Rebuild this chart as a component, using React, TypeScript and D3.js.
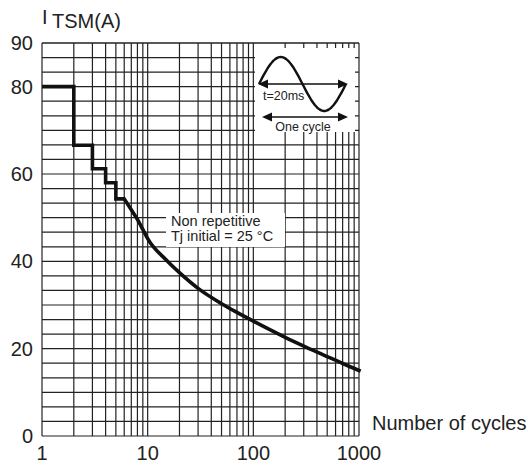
import React from "react";
import * as d3 from "d3";

const W = 531;
const H = 464;

// Data
const stepCycles = [1, 2, 3, 4, 5, 6];
const stepCurrent = [80, 66.6, 61.2, 58, 54.3, 54.3];
const curveCycles = [6, 7, 8, 9, 10, 15, 20, 30, 50, 70, 100, 200, 300, 500, 700, 1000];
const curveCurrent = [54.3, 51.8, 49.6, 47.3, 45.2, 40.3, 37.4, 33.8, 30.3, 28.3, 26.3, 22.6, 20.6, 18.2, 16.6, 15];
const yTickLabels = [0, 20, 40, 60, 80, 90];
const xTickLabels = [1, 10, 100, 1000];
const yGridStep = 10 / 3;
const decades = [1, 10, 100];
const multipliers = [1, 2, 3, 4, 5, 6, 7, 8, 9];

const FONT = "'Liberation Sans', Arial, Helvetica, sans-serif";
const GRID = "#222";

export default function App() {
  const x = d3.scaleLog().domain([1, 1000]).range([42, 359]);
  const y = d3.scaleLinear().domain([0, 90]).range([436, 43]);

  const xGrid: number[] = [];
  decades.forEach((d) => multipliers.forEach((m) => xGrid.push(d * m)));
  xGrid.push(1000);
  const yGrid = d3.range(0, 28).map((i) => i * yGridStep);

  const stepData = stepCycles.map((c, i) => [c, stepCurrent[i]] as [number, number]);
  const curveData = curveCycles.map((c, i) => [c, curveCurrent[i]] as [number, number]);

  const stepLine = d3
    .line<[number, number]>()
    .x((d) => x(d[0]))
    .y((d) => y(d[1]))
    .curve(d3.curveStepAfter);
  const smoothLine = d3
    .line<[number, number]>()
    .x((d) => x(d[0]))
    .y((d) => y(d[1]))
    .curve(d3.curveMonotoneX);

  // inset sine glyph
  const sx0 = 259, sx1 = 346, sMid = 84, sAmp = 27;
  const sinePts = d3.range(0, 61).map((i) => {
    const t = i / 60;
    return [sx0 + t * (sx1 - sx0), sMid - sAmp * Math.sin(t * 2 * Math.PI)] as [number, number];
  });
  const sinePath = d3.line().curve(d3.curveBasis)(sinePts) || "";

  const arrow = (x0: number, x1: number, yy: number) => {
    const hl = 10, hw = 4.5;
    return (
      <g>
        <line x1={x0 + hl - 1} x2={x1 - hl + 1} y1={yy} y2={yy} stroke="#111" strokeWidth={1.5} />
        <polygon points={`${x0},${yy} ${x0 + hl},${yy - hw} ${x0 + hl},${yy + hw}`} fill="#111" />
        <polygon points={`${x1},${yy} ${x1 - hl},${yy - hw} ${x1 - hl},${yy + hw}`} fill="#111" />
      </g>
    );
  };

  return (
    <svg
      width={W}
      height={H}
      style={{ position: "absolute", left: 0, top: 0, background: "#fff" }}
      fontFamily={FONT}
    >
      <rect x={0} y={0} width={W} height={H} fill="#fff" />
      {/* grid */}
      <g stroke={GRID} strokeWidth={1.2}>
        {xGrid.map((v) => (
          <line key={"vx" + v} x1={x(v)} x2={x(v)} y1={y(90)} y2={y(0)} />
        ))}
        {yGrid.map((v, i) => (
          <line key={"hy" + i} x1={x(1)} x2={x(1000)} y1={y(v)} y2={y(v)} />
        ))}
        <line x1={x(1)} x2={x(1000)} y1={y(90)} y2={y(90)} />
      </g>

      {/* inset box */}
      <rect x={255} y={48} width={100} height={84} fill="#fff" />
      <path d={sinePath} fill="none" stroke="#111" strokeWidth={2.4} />
      {arrow(258, 348, 84)}
      <text x={263} y={100} fontSize={12.5} fill="#222">t=20ms</text>
      {arrow(262, 348, 117)}
      <text x={303} y={131} fontSize={12.5} fill="#222" textAnchor="middle">One cycle</text>

      {/* curve */}
      <path d={stepLine(stepData) || ""} fill="none" stroke="#111" strokeWidth={3.6} strokeLinejoin="miter" />
      <path d={smoothLine(curveData) || ""} fill="none" stroke="#111" strokeWidth={3.6} strokeLinecap="square" />

      {/* annotation */}
      <rect x={166} y={213} width={119} height={34} fill="#fff" />
      <text x={171} y={226} fontSize={14.5} fill="#222">Non repetitive</text>
      <text x={171} y={241} fontSize={14.5} fill="#222">Tj initial = 25 °C</text>

      {/* y tick labels */}
      {yTickLabels.map((v) => (
        <text key={"yl" + v} x={33} y={y(v) + 7} fontSize={20} textAnchor="end" fill="#222">
          {v}
        </text>
      ))}
      {/* x tick labels */}
      {xTickLabels.map((v) => (
        <text key={"xl" + v} x={x(v)} y={460} fontSize={20} textAnchor="middle" fill="#222">
          {v}
        </text>
      ))}

      <text x={42} y={24} fontSize={20} fill="#222">I</text>
      <text x={52} y={28} fontSize={20} fill="#222">TSM(A)</text>
      <text x={372} y={430} fontSize={20} fill="#222">Number of cycles</text>
    </svg>
  );
}
